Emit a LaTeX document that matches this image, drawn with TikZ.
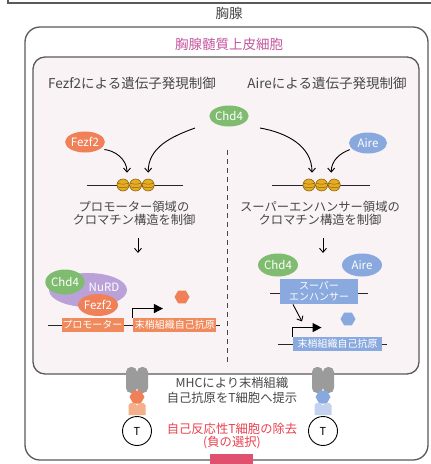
\documentclass[tikz,border=0pt]{standalone}
\usepackage{fontspec}
\setmainfont{Noto Sans CJK JP}
\usepackage{tikz}
\usetikzlibrary{arrows.meta, shapes.geometric, positioning}
\definecolor{framegray}{HTML}{5A5A5A}
\definecolor{txtgray}{HTML}{474747}
\definecolor{mtecpink}{HTML}{C4559F}
\definecolor{cellfill}{HTML}{F9F3F6}
\definecolor{chdgreen}{HTML}{7FBC6F}
\definecolor{fzorange}{HTML}{EF8057}
\definecolor{geneorange}{HTML}{F08A5C}
\definecolor{aireblue}{HTML}{88A8DE}
\definecolor{geneblue}{HTML}{8AA9DE}
\definecolor{nurdpurple}{HTML}{BAA2D9}
\definecolor{nucgold}{HTML}{E6AD22}
\definecolor{nucdark}{HTML}{8C6410}
\definecolor{mhcgray}{HTML}{9B9B9B}
\definecolor{tcrorange}{HTML}{F5AF8A}
\definecolor{tcrblue}{HTML}{C5D2EF}
\definecolor{alertred}{HTML}{E8414F}
\definecolor{barpink}{HTML}{E0506F}
\tikzset{frame/.style={draw=framegray,line width=1.3pt}}
\tikzset{heading/.style={text=txtgray,font=\fontsize{13.5}{15}\selectfont}}
\tikzset{note/.style={align=center,text=txtgray,font=\fontsize{12.3}{13}\selectfont}}
\tikzset{mol/.style={ellipse,minimum width=38pt,minimum height=21pt,inner sep=0pt,text=white,font=\fontsize{11.5}{12}\selectfont}}
\tikzset{gene/.style={rectangle,minimum height=14pt,inner sep=1pt,text=white,font=\fontsize{10}{10.5}\selectfont}}
\tikzset{dna/.style={draw=black!85,line width=1pt}}
\tikzset{tss/.style={draw=black,line width=1pt,-{Triangle[length=9pt,width=9pt]}}}
\tikzset{antigen/.style={regular polygon,regular polygon sides=6,minimum size=15pt,inner sep=0pt}}
\tikzset{tcell/.style={circle,draw=black,line width=0.9pt,minimum size=29pt,inner sep=0pt,font=\fontsize{11}{12}\selectfont}}
\tikzset{nuc/.style={circle,draw=nucdark,line width=0.6pt,fill=nucgold,minimum size=12pt,inner sep=0pt,
  path picture={
    \draw[nucdark,line width=0.5pt] ([yshift=2pt]path picture bounding box.west) to[bend right=20] ([yshift=2pt]path picture bounding box.east);
    \draw[nucdark,line width=0.5pt] ([yshift=-1.5pt]path picture bounding box.west) to[bend right=20] ([yshift=-1.5pt]path picture bounding box.east);
  }}}

\begin{document}
\begin{tikzpicture}[x=1pt,y=-1pt,>={Straight Barb[length=4pt,width=7pt]},line width=0.9pt]
\clip (0,0) rectangle (431,464);
\fill[white] (0,0) rectangle (431,464);

% thymus and the epithelial cell
\draw[frame] (8,-5) |- (440,3);
\node[heading](Thy) at (229,13){胸腺};
\draw[frame,fill=white,rounded corners=15pt] (25,27) rectangle (428,460);
\node[heading,text=mtecpink](mTEC) at (229,44){胸腺髄質上皮細胞};
\draw[frame,fill=cellfill,rounded corners=12pt] (33,57) rectangle (419,374);

\node[heading](FzHead) at (132,83){Fezf2による遺伝子発現制御};
\node[heading](AiHead) at (327,83){Aireによる遺伝子発現制御};
\draw[txtgray,line width=0.8pt,dash pattern=on 5pt off 4pt] (227,150) -- (227,366);

\node[mol,fill=chdgreen](Chd) at (229,116){Chd4};
\node[mol,fill=fzorange](Fz) at (85,142){Fezf2};
\node[mol,fill=aireblue](Ai) at (368,143){Aire};
\coordinate(cL) at (195,128);
\coordinate(cR) at (260,128);

% promoter chromatin
\draw[dna] (87,185) -- (183,185);
\node[nuc](L1) at (123,185){};
\node[nuc,right=0pt of L1](L2){};
\node[nuc,right=0pt of L2](L3){};
\draw[->,shorten <=4pt] (Fz.-25) to[out=-5,in=90] ([xshift=4pt,yshift=6pt]L1.north);
\draw[->] (cL) to[out=200,in=90] ([yshift=6pt]L3.north);
\node[note](PTxt) at (134,213){プロモーター領域の\\クロマチン構造を制御};
\draw[->] ([xshift=4pt,yshift=-9pt]PTxt.south) -- ++(0,15);

% super-enhancer chromatin
\draw[dna] (272,185) -- (370,185);
\node[nuc](R1) at (309,185){};
\node[nuc,right=0pt of R1](R2){};
\node[nuc,right=0pt of R2](R3){};
\draw[->] (cR) to[out=-10,in=90] ([xshift=3pt,yshift=6pt]R1.north);
\draw[->,shorten <=2pt] (Ai.200) to[out=200,in=90] ([xshift=-3pt,yshift=6pt]R3.north);
\node[note](STxt) at (320,213){スーパーエンハンサー領域の\\クロマチン構造を制御};
\draw[->] ([xshift=3pt,yshift=-9pt]STxt.south) -- ++(0,15);

% Fezf2 / NuRD on the promoter
\node[ellipse,fill=nurdpurple,minimum width=78pt,minimum height=34pt](NuRD) at (88,290){};
\node[text=white,font=\fontsize{11.5}{12}\selectfont](NuRDlbl) at (104,287){NuRD};
\node[mol,fill=chdgreen,minimum height=25pt](ChdL) at (65,282){Chd4};
\node[mol,fill=fzorange,minimum width=40pt,minimum height=22pt](FzL) at (98,305){Fezf2};
\draw[dna] (48,325) -- (220,325);
\node[gene,fill=geneorange,minimum width=61pt](Prom) at (92.5,325){プロモーター};
\node[gene,fill=geneorange,minimum width=83pt,right=9pt of Prom](AgL){末梢組織自己抗原};
\draw[tss] (AgL.north west) |- ++(30,-9);
\node[antigen,fill=fzorange](PepL) at (182,297){};

% Aire on the super-enhancer
\node[mol,fill=chdgreen,minimum width=40pt,minimum height=23pt](ChdR) at (278,265){Chd4};
\node[mol,fill=aireblue,minimum width=40pt,minimum height=23pt](AiR) at (362,265){Aire};
\draw[dna] (270,293) -- (368,293);
\node[gene,fill=geneblue,minimum width=78pt,minimum height=25pt,align=center,font=\fontsize{10}{11}\selectfont](SE) at (319,291.5){スーパー\\エンハンサー};
\draw[->] ([xshift=-26pt]SE.south) -- ++(9,17);
\draw[dna] (278,344) -- (387,344);
\node[gene,fill=geneblue,minimum width=89pt](AgR) at (337.5,344){末梢組織自己抗原};
\draw[tss] (AgR.north west) |- ++(29,-9);
\node[antigen,fill=aireblue](PepR) at (348,319){};

% presentation to T cells
\fill[mhcgray,rounded corners=5pt] (126,367) rectangle (137,393);
\fill[mhcgray,rounded corners=5pt] (137,367) rectangle (148,393);
\node[antigen,fill=fzorange](PepTL) at (137,397){};
\fill[tcrorange] (128.5,415) -- (128.5,405) -- (130.5,403) -- (135.5,403) -- (137,406) -- (138.5,403) -- (143.5,403) -- (145.5,405) -- (145.5,415) -- cycle;
\node[tcell](TL) at (137,431){T};

\fill[mhcgray,rounded corners=5pt] (312,367) rectangle (323,393);
\fill[mhcgray,rounded corners=5pt] (323,367) rectangle (334,393);
\node[antigen,fill=aireblue](PepTR) at (323,397){};
\fill[tcrblue] (314.5,415) -- (314.5,405) -- (316.5,403) -- (321.5,403) -- (323,406) -- (324.5,403) -- (329.5,403) -- (331.5,405) -- (331.5,415) -- cycle;
\node[tcell](TR) at (323,431){T};

\node[note,font=\fontsize{12.3}{15}\selectfont](MHC) at (232,390){MHCにより末梢組織\\自己抗原をT細胞へ提示};
\node[note,text=alertred,font=\fontsize{12.3}{12.5}\selectfont](NegSel) at (232,436){自己反応性T細胞の除去\\(負の選択)};
\fill[barpink] (210,454) rectangle (253,466);
\end{tikzpicture}
\end{document}
